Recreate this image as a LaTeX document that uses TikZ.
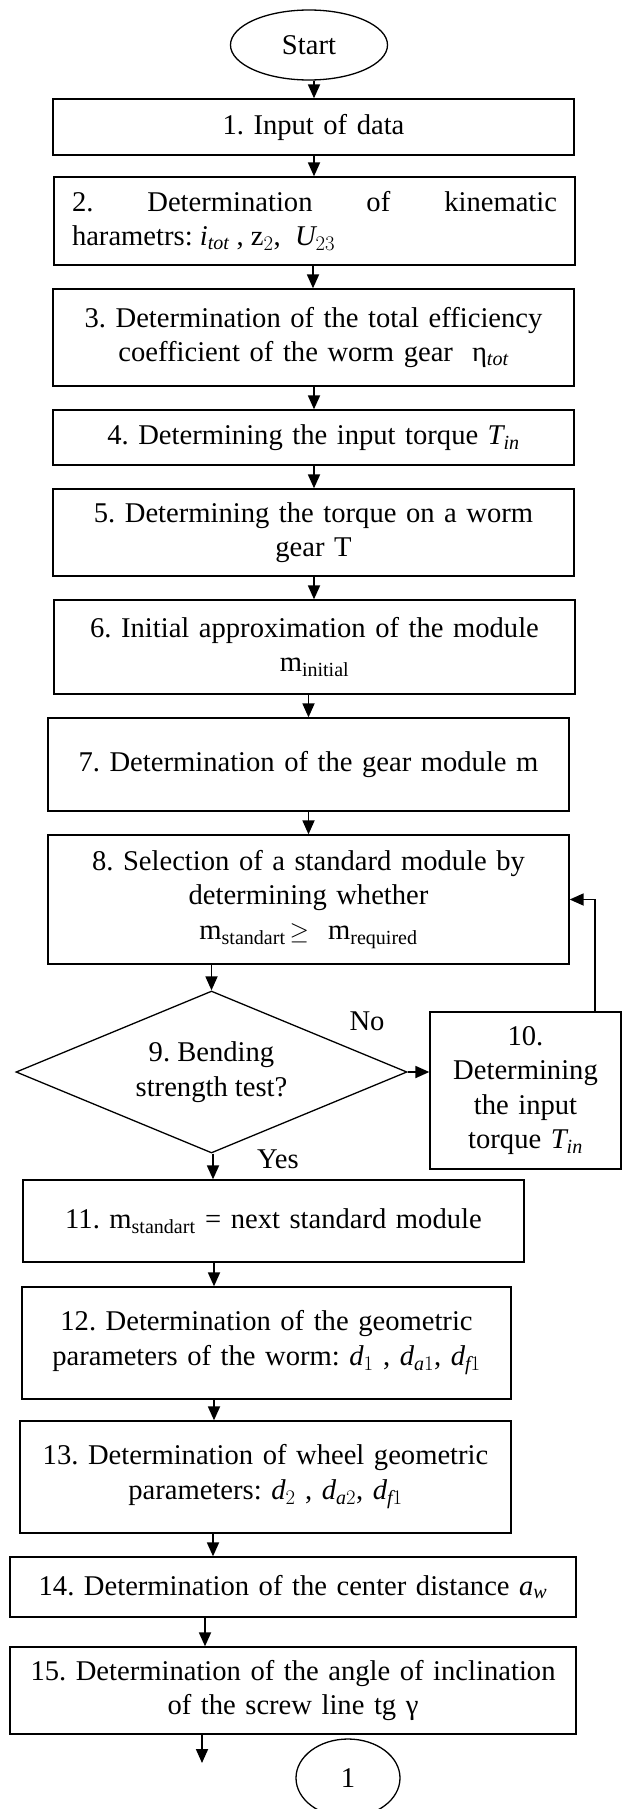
\documentclass[tikz,border=0pt]{standalone}
\usepackage{fontspec}
\setmainfont{Liberation Serif}
\usetikzlibrary{arrows.meta,shapes.geometric,calc}

\begin{document}
\frenchspacing
\begin{tikzpicture}[x=1pt,y=-1pt,
  font=\fontsize{28.6}{34.5}\selectfont,
  box/.style={draw,line width=1.3pt,rectangle,inner sep=0pt,align=center},
  term/.style={draw,line width=1.3pt,ellipse,inner sep=0pt},
  decision/.style={draw,line width=1.3pt,diamond,aspect=2.41,inner sep=0pt,align=center},
  arr/.style={line width=1.8pt,-{Triangle[length=14pt,width=12pt]}},
  lbl/.style={inner sep=0pt}]

\useasboundingbox (0,0) rectangle (623,1809);

% terminals
\node[term,minimum width=157pt,minimum height=70pt] (start) at (309,45) {Start};
\node[term,minimum width=104pt,minimum height=78pt] (conn) at (348,1778) {1};

% process steps
\node[box,minimum width=521pt,minimum height=56pt,text width=491pt] (b1) at (313.5,127) {1. Input of data};
\node[box,minimum width=521pt,minimum height=88pt,text width=485pt,align=justify] (b2) at (314.5,221)
  {2. Determination of kinematic\linebreak harametrs: $\mathit{i}_{\mathit{tot}}$ , z$_2$,\ \ $\mathit{U}_{23}$};
\node[box,minimum width=521pt,minimum height=97pt,text width=500pt] (b3) at (313.5,337.5)
  {3. Determination of the total efficiency\\ coefficient of the worm gear\ \ η$_{\mathit{tot}}$};
\node[box,minimum width=521pt,minimum height=55pt,text width=500pt] (b4) at (313.5,437.5)
  {4. Determining the input torque $\mathit{T}_{\mathit{in}}$};
\node[box,minimum width=521pt,minimum height=87pt,text width=500pt] (b5) at (313.5,532.5)
  {5. Determining the torque on a worm\\ gear T};
\node[box,minimum width=521pt,minimum height=94pt,text width=500pt] (b6) at (314.5,647)
  {6. Initial approximation of the module\\ m$_{\mathrm{initial}}$};
\node[box,minimum width=521pt,minimum height=93pt,text width=500pt] (b7) at (308.5,764.5)
  {7. Determination of the gear module m};
\node[box,minimum width=521pt,minimum height=129pt,text width=500pt] (b8) at (308.5,899.5)
  {8. Selection of a standard module by\\ determining whether\\ m$_{\mathrm{standart}}\,{\geq}$\ \ m$_{\mathrm{required}}$};

% decision
\node[decision,minimum width=391pt,minimum height=162pt] (d9) at (211.5,1072)
  {9. Bending\\ strength test?};

\node[box,minimum width=191pt,minimum height=157pt,text width=180pt] (b10) at (525.5,1090.5)
  {10.\\ Determining\\ the input\\ torque $\mathit{T}_{\mathit{in}}$};

\node[box,minimum width=501pt,minimum height=82pt,text width=480pt] (b11) at (273.5,1221)
  {11. m$_{\mathrm{standart}}$ = next standard module};
\node[box,minimum width=489pt,minimum height=112pt,text width=470pt] (b12) at (266.5,1343)
  {12. Determination of the geometric\\ parameters of the worm: $\mathit{d}_1$ , $\mathit{d}_{\mathit{a}1}$, $\mathit{d}_{\mathit{f}1}$};
\node[box,minimum width=491pt,minimum height=112pt,text width=470pt] (b13) at (265.5,1477)
  {13. Determination of wheel geometric\\ parameters: $\mathit{d}_2$ , $\mathit{d}_{\mathit{a}2}$, $\mathit{d}_{\mathit{f}1}$};
\node[box,minimum width=566pt,minimum height=60pt,text width=545pt] (b14) at (293,1587)
  {14. Determination of the center distance $\mathit{a}_{\mathit{w}}$};
\node[box,minimum width=566pt,minimum height=87pt,text width=545pt] (b15) at (293,1690.5)
  {15. Determination of the angle of inclination\\ of the screw line tg γ};

% branch labels
\node[lbl] (no) at (367,1021) {No};
\node[lbl] (yes) at (278,1159) {Yes};

\coordinate (tail) at (202,1763);

% connectors
\draw[arr] ($(start.south)+(5,0)$) -- ($(b1.north)+(0.5,0)$);
\draw[arr] ($(b1.south)+(0.5,0)$) -- ($(b2.north)+(-0.5,0)$);
\draw[arr] ($(b2.south)+(-1.5,0)$) -- ($(b3.north)+(-0.5,0)$);
\draw[arr] ($(b3.south)+(0.5,0)$) -- ($(b4.north)+(0.5,0)$);
\draw[arr] ($(b4.south)+(0.5,0)$) -- ($(b5.north)+(0.5,0)$);
\draw[arr] ($(b5.south)+(0.5,0)$) -- ($(b6.north)+(-0.5,0)$);
\draw[arr] (b7.north |- b6.south) -- (b7.north);
\draw[arr] (b7.south) -- (b8.north);
\draw[arr] (d9.north |- b8.south) -- (d9.north);
\draw[arr] (d9.east) -- (d9.east -| b10.west);
\draw[arr] ($(b10.north)+(69.5,0)$) |- (b8.east);
\draw[arr] ($(d9.south)+(1.5,0)$) -- ($(b11.north)+(-60.5,0)$);
\draw[arr] ($(b11.south)+(-59.5,0)$) -- ($(b12.north)+(-52.5,0)$);
\draw[arr] ($(b12.south)+(-52.5,0)$) -- ($(b13.north)+(-51.5,0)$);
\draw[arr] ($(b13.south)+(-52.5,0)$) -- ($(b14.north)+(-80,0)$);
\draw[arr] ($(b14.south)+(-88,0)$) -- ($(b15.north)+(-88,0)$);
\draw[arr] ($(b15.south)+(-91,0)$) -- (tail);

\end{tikzpicture}
\end{document}
